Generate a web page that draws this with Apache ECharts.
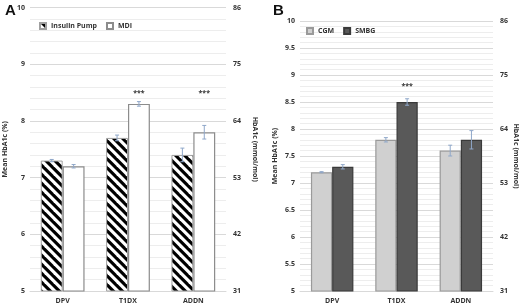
<!DOCTYPE html>
<html>
<head>
<meta charset="utf-8">
<script src="https://cdn.jsdelivr.net/npm/echarts@6/dist/echarts.min.js"></script>
<style>
    html, body { margin: 0; padding: 0; background: #fff; }
    #chart { width: 520px; height: 304px; }
</style>
</head>
<body>
<div id="chart"></div>
<script>
// categories and values
const categories = ['DPV', 'T1DX', 'ADDN'];
const rightLabels = ['31', '42', '53', '64', '75', '86'];

const pumpValues = [7.3, 7.7, 7.4];
const pumpErrors = [0.02, 0.05, 0.12];
const mdiValues = [7.2, 8.3, 7.8];
const mdiErrors = [0.03, 0.04, 0.12];
const sigA = ['', '***', '***'];

const cgmValues = [7.2, 7.8, 7.6];
const cgmErrors = [0.01, 0.04, 0.1];
const smbgValues = [7.3, 8.5, 7.8];
const smbgErrors = [0.04, 0.06, 0.17];
const sigB = ['', '***', ''];

const sigLevelA = 8.5;
const sigLevelB = 8.8;

const font = '"Open Sans", "DejaVu Sans", sans-serif';
const gapA = 0.33;
const gapB = 0.34;

// diagonal hatch for the insulin pump bars
const makeHatch = () => {
    const p = 9;
    const c = document.createElement('canvas');
    c.width = p; c.height = p;
    const ctx = c.getContext('2d');
    ctx.fillStyle = '#fff';
    ctx.fillRect(0, 0, p, p);
    ctx.fillStyle = '#000';
    for (let k = -1; k <= 1; k++) {
        const o = k * p;
        ctx.beginPath();
        ctx.moveTo(o, 0);
        ctx.lineTo(o + 4.5, 0);
        ctx.lineTo(o + 4.5 + p, p);
        ctx.lineTo(o + p, p);
        ctx.closePath();
        ctx.fill();
    }
    return c;
};
const hatch = { image: makeHatch(), repeat: 'repeat' };

// error bars + significance stars, drawn through the axes
const errorSeries = (xi, yi, vals, errs, sigs, sigLevel, gap) => {
    const data = [];
    vals.forEach((s, si) => s.forEach((v, ci) => data.push([ci, v, errs[si][ci], si])));
    return {
        type: 'custom',
        xAxisIndex: xi,
        yAxisIndex: yi,
        z: 5,
        silent: true,
        encode: { x: 0, y: 1 },
        data: data,
        renderItem: (params, api) => {
            const ci = api.value(0);
            const v = api.value(1);
            const e = api.value(2);
            const si = api.value(3);
            const bw = api.size([1, 0])[0] * (1 - gap) / 2;
            const cx = api.coord([ci, v])[0] + (si === 0 ? -bw / 2 : bw / 2);
            const top = api.coord([ci, v + e])[1];
            const bot = api.coord([ci, v - e])[1];
            const style = { stroke: '#8fa7c9', lineWidth: 1 };
            const children = [
                { type: 'line', shape: { x1: cx, y1: top, x2: cx, y2: bot }, style },
                { type: 'line', shape: { x1: cx - 2, y1: top, x2: cx + 2, y2: top }, style },
                { type: 'line', shape: { x1: cx - 2, y1: bot, x2: cx + 2, y2: bot }, style }
            ];
            if (si === 1 && sigs[ci]) {
                const sy = api.coord([ci, sigLevel])[1];
                children.push({
                    type: 'text',
                    style: {
                        x: cx, y: sy, text: sigs[ci], align: 'center', verticalAlign: 'middle',
                        font: 'bold 7px ' + font, fill: '#333'
                    }
                });
            }
            return { type: 'group', children };
        }
    };
};

const axisText = { fontSize: 7, fontWeight: 'bold', color: '#333', fontFamily: font };

const leftAxis = (gi, interval, name) => ({
    type: 'value', gridIndex: gi, position: 'left', min: 5, max: 10, interval: interval,
    name: name, nameLocation: 'middle', nameGap: 22, nameRotate: 90,
    nameTextStyle: axisText,
    axisLine: { show: false }, axisTick: { show: false },
    axisLabel: Object.assign({ margin: 5 }, axisText),
    splitLine: { lineStyle: { color: '#d9d9d9', width: 1 } },
    minorTick: { show: false, splitNumber: 5 },
    minorSplitLine: { show: true, lineStyle: { color: '#ededed', width: 1 } }
});

const rightAxis = (gi, gap) => ({
    type: 'value', gridIndex: gi, position: 'right', min: 5, max: 10, interval: 1,
    name: 'HbA1c (mmol/mol)', nameLocation: 'middle', nameGap: gap, nameRotate: -90,
    nameTextStyle: axisText,
    axisLine: { show: false }, axisTick: { show: false },
    axisLabel: Object.assign({ margin: 7, formatter: v => rightLabels[Math.round(v - 5)] }, axisText),
    splitLine: { show: false }
});

const xAxis = (gi) => ({
    type: 'category', gridIndex: gi, data: categories,
    axisLine: { show: true, lineStyle: { color: '#d9d9d9' } },
    axisTick: { show: false },
    axisLabel: Object.assign({ margin: 6 }, axisText)
});

const legendText = { fontSize: 7, fontWeight: 'bold', color: '#333', fontFamily: font };

let option = {
    animation: false,
    title: [
        { text: 'A', left: 0, top: -2, textStyle: { fontSize: 15, fontWeight: 'bold', color: '#111', fontFamily: '"Liberation Sans", sans-serif' } },
        { text: 'B', left: 268, top: -2, textStyle: { fontSize: 15, fontWeight: 'bold', color: '#111', fontFamily: '"Liberation Sans", sans-serif' } }
    ],
    legend: [
        {
            data: ['Insulin Pump', 'MDI'], left: 39, top: 22, icon: 'rect', itemWidth: 6, itemHeight: 6, itemGap: 9,
            textStyle: legendText, padding: 0
        },
        {
            data: ['CGM', 'SMBG'], left: 306, top: 27, icon: 'rect', itemWidth: 6, itemHeight: 6, itemGap: 9,
            textStyle: legendText, padding: 0
        }
    ],
    grid: [
        { left: 30, right: 294, top: 7.5, bottom: 11.5 },
        { left: 300, right: 20, top: 21, bottom: 11.5 }
    ],
    xAxis: [xAxis(0), xAxis(1)],
    yAxis: [
        leftAxis(0, 1, 'Mean HbA1c (%)'),
        rightAxis(0, 25),
        leftAxis(1, 0.5, 'Mean HbA1c (%)'),
        rightAxis(1, 19)
    ],
    series: [
        {
            name: 'Insulin Pump', type: 'bar', xAxisIndex: 0, yAxisIndex: 0, data: pumpValues,
            barGap: '0%', barCategoryGap: (gapA * 100) + '%',
            itemStyle: { color: hatch, borderColor: '#a0a0a0', borderWidth: 1 }
        },
        {
            name: 'MDI', type: 'bar', xAxisIndex: 0, yAxisIndex: 0, data: mdiValues,
            barGap: '0%', barCategoryGap: (gapA * 100) + '%',
            itemStyle: { color: '#ffffff', borderColor: '#8c8c8c', borderWidth: 1.2 }
        },
        errorSeries(0, 0, [pumpValues, mdiValues], [pumpErrors, mdiErrors], sigA, sigLevelA, gapA),
        {
            name: 'CGM', type: 'bar', xAxisIndex: 1, yAxisIndex: 2, data: cgmValues,
            barGap: '0%', barCategoryGap: (gapB * 100) + '%',
            itemStyle: { color: '#d0d0d0', borderColor: '#9a9a9a', borderWidth: 1.2 }
        },
        {
            name: 'SMBG', type: 'bar', xAxisIndex: 1, yAxisIndex: 2, data: smbgValues,
            barGap: '0%', barCategoryGap: (gapB * 100) + '%',
            itemStyle: { color: '#595959', borderColor: '#3a3a3a', borderWidth: 1.2 }
        },
        errorSeries(1, 2, [cgmValues, smbgValues], [cgmErrors, smbgErrors], sigB, sigLevelB, gapB)
    ]
};

const chartInit = () => {
    let myChart = echarts.init(document.getElementById('chart'));
    option && myChart.setOption(option);
};
chartInit();
</script>
</body>
</html>
